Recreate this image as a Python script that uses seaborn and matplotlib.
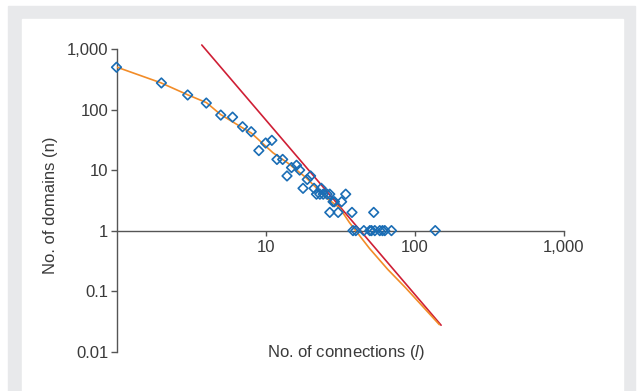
import matplotlib
matplotlib.use("Agg")
import matplotlib.pyplot as plt
from matplotlib.patches import Rectangle
import seaborn as sns
import pandas as pd

# observed points: number of connections (l) vs number of domains (n)
conn = [1, 2, 3, 4, 5, 6, 7, 8, 9, 10, 11, 11.9, 13, 13.9, 14.9, 16.1, 16.9,
        17.8, 19, 20, 21.1, 21.9, 23.1, 23.6, 24.3, 25.8, 26.9, 26.9, 28.3,
        28.9, 30.6, 32.3, 34.4, 37.9, 53,
        38.5, 40.2, 45.5, 49.9, 51.2, 53.9, 58.2, 60.7, 62.9, 69.7, 137]
domains = [500, 275, 174, 128, 81, 75, 52, 43, 21, 28, 31, 15, 15, 8, 11, 12, 10,
           5, 7, 8, 5, 4, 4, 5, 4, 4, 4, 2, 3,
           3, 2, 3, 4, 2, 2,
           1, 1, 1, 1, 1, 1, 1, 1, 1, 1, 1]

# fitted curve (orange)
fit_x = [1, 1.98, 3.02, 4.01, 4.98, 6.98, 8.0, 11.2, 14.0, 18.7, 25.5,
         31.3, 36.5, 40.4, 49.6, 65.8, 86.9, 146]
fit_y = [504, 277, 174, 130, 83, 50, 41, 19.3, 13.2, 7.46, 3.48,
         2.38, 1.35, 0.98, 0.51, 0.229, 0.113, 0.028]

# power-law line (red)
pl_x = [3.73, 150]
pl_y = [1165, 0.0274]

yticks = [0.01, 0.1, 1, 10, 100, 1000]
ylabels = ["0.01", "0.1", "1", "10", "100", "1,000"]
xticks = [10, 100, 1000]
xlabels = ["10", "100", "1,000"]

blue = "#1a6db5"
orange = "#f28c28"
red = "#cf1f35"
ink = "#3a3a3a"

sns.set_style("white")
plt.rcParams["font.family"] = ["Liberation Sans", "DejaVu Sans"]
plt.rcParams["mathtext.fontset"] = "custom"
plt.rcParams["mathtext.it"] = "Liberation Sans:italic"
plt.rcParams["mathtext.rm"] = "Liberation Sans"

fig = plt.figure(figsize=(6.42, 3.91), dpi=100)
fig.patch.set_facecolor("white")
fig.patches.append(Rectangle((8 / 642, 0), 627 / 642, 1 - 6 / 391,
                             transform=fig.transFigure, color="#e8e9eb", zorder=-2))
fig.patches.append(Rectangle((22 / 642, 0), 601 / 642, 1 - 19 / 391,
                             transform=fig.transFigure, color="white", zorder=-1))

ax = fig.add_axes([116.5 / 642, 1 - 351.7 / 391, 447.5 / 642, 302.7 / 391])
ax.set_zorder(1)
ax.patch.set_alpha(0)

pts = pd.DataFrame({"l": conn, "n": domains})
fit = pd.DataFrame({"l": fit_x, "n": fit_y})
pl = pd.DataFrame({"l": pl_x, "n": pl_y})

sns.lineplot(data=pl, x="l", y="n", color=red, lw=1.2, sort=False, ax=ax,
             clip_on=False, zorder=2)
sns.lineplot(data=fit, x="l", y="n", color=orange, lw=1.2, sort=False, ax=ax,
             zorder=3)
sns.scatterplot(data=pts, x="l", y="n", marker="D", s=24, facecolor="none",
                edgecolor=blue, linewidth=1.2, ax=ax, zorder=4, clip_on=False)

ax.set_xscale("log")
ax.set_yscale("log")
ax.set_xlim(1, 1000)
ax.set_ylim(0.01, 1000)
ax.set_yticks(yticks, ylabels)
ax.set_xticks(xticks, xlabels)
ax.minorticks_off()

for s in ["top", "right"]:
    ax.spines[s].set_visible(False)
ax.spines["bottom"].set_position(("data", 1))
for s in ["left", "bottom"]:
    ax.spines[s].set_color("#555555")
    ax.spines[s].set_linewidth(1.0)

ax.tick_params(axis="y", direction="out", length=4.3, width=1.0, color="#555555",
               pad=1.5, labelsize=12, labelcolor=ink, left=True)
ax.tick_params(axis="x", direction="out", length=3.6, width=1.0, color="#555555",
               pad=3, labelsize=12, labelcolor=ink, bottom=True)

ax.set_xlabel("No. of connections ($\\mathit{l}$)", fontsize=12, color=ink)
ax.xaxis.set_label_coords(0.514, 0.03)
ax.set_ylabel("No. of domains (n)", fontsize=12, color=ink)
ax.yaxis.label.set_verticalalignment("center")
ax.yaxis.set_label_coords(-0.148, 0.485)

fig.savefig("out.png", dpi=100)
